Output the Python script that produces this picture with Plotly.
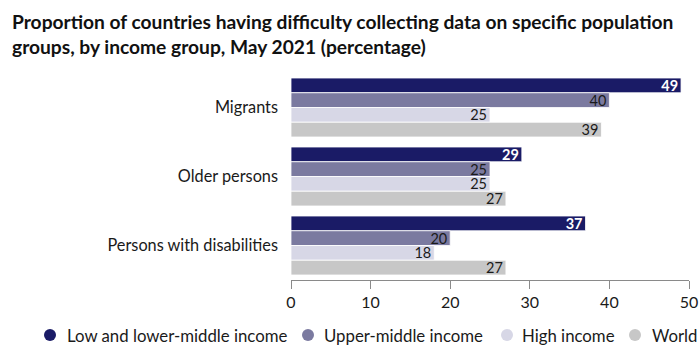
import plotly.graph_objects as go

# Data: share of countries reporting difficulty (%)
groups = ["Migrants", "Older persons", "Persons with disabilities"]
series_names = ["Low and lower-middle income", "Upper-middle income", "High income", "World"]
low_lower_middle = [49, 29, 37]
upper_middle = [40, 25, 20]
high_income = [25, 25, 18]
world = [39, 27, 27]

values = [low_lower_middle, upper_middle, high_income, world]
colors = ["#1a1b66", "#7b7aa0", "#d7d7e6", "#c7c7c7"]
text_colors = ["white", "#1a1a1a", "#1a1a1a", "#1a1a1a"]
font_family = "Lato, 'Open Sans', sans-serif"
title_text = ("Proportion of countries having difficulty collecting data on specific population"
              "<br>groups, by income group, May 2021 (percentage)")

W, H = 700, 345
ML, MR, MT, MB = 291, 11, 73, 65
PW, PH = W - ML - MR, H - MT - MB


def px_to_paper(px, py):
    """Convert page pixel position to paper coordinates."""
    return (px - ML) / PW, (H - MB - py) / PH


fig = go.Figure()
for name, vals, col, tcol in zip(series_names, values, colors, text_colors):
    fig.add_trace(go.Bar(
        y=groups, x=vals, orientation="h", name=name,
        marker=dict(color=col, line=dict(color="white", width=0.8)),
        text=[str(v) for v in vals], textposition="inside", insidetextanchor="end",
        textfont=dict(color=tcol, size=14.5, family=font_family,
                      weight="bold" if tcol == "white" else "normal"),
        textangle=0, constraintext="none", cliponaxis=False,
        showlegend=False,
    ))

# Legend row: circle swatch + label
legend_items = [
    (series_names[0], colors[0], 50, 65),
    (series_names[1], colors[1], 308, 322),
    (series_names[2], colors[2], 507, 520),
    (series_names[3], colors[3], 635, 650),
]
legend_y = 335
r = 6
shapes = []
annotations = []
for name, col, cx, tx in legend_items:
    x0, y0 = px_to_paper(cx - r, legend_y + r)
    x1, y1 = px_to_paper(cx + r, legend_y - r)
    shapes.append(dict(type="circle", xref="paper", yref="paper",
                       x0=x0, x1=x1, y0=y0, y1=y1,
                       fillcolor=col, line=dict(width=0)))
    ax, ay = px_to_paper(tx, legend_y)
    annotations.append(dict(text=name, xref="paper", yref="paper", x=ax, y=ay,
                            xanchor="left", yanchor="middle", showarrow=False,
                            font=dict(size=16.8, color="#1a1a1a", family=font_family)))

# Two-line chart title at the top left
tx, ty = px_to_paper(10, 8)
annotations.append(dict(text=title_text, xref="paper", yref="paper", x=tx, y=ty,
                        xanchor="left", yanchor="top", align="left", showarrow=False,
                        font=dict(size=19.2, family=font_family, weight="bold", color="#111111")))

fig.update_layout(
    width=W, height=H,
    margin=dict(l=ML, r=MR, t=MT, b=MB),
    paper_bgcolor="white", plot_bgcolor="white",
    barmode="group", bargap=0.145, bargroupgap=0,
    font=dict(family=font_family, size=16, color="#1a1a1a"),
    xaxis=dict(
        range=[0, 50], dtick=10, showgrid=False, zeroline=False,
        showline=True, linecolor="#8a8a8a", linewidth=1,
        ticks="outside", ticklen=8, tickcolor="#8a8a8a", tickwidth=1,
        tickfont=dict(size=16, color="#1a1a1a"), automargin=False,
    ),
    yaxis=dict(
        autorange="reversed", showgrid=False, zeroline=False, showline=False,
        ticks="", ticklabelstandoff=12, automargin=False,
        tickfont=dict(size=16.3, color="#1a1a1a"),
    ),
    showlegend=False,
    shapes=shapes,
    annotations=annotations,
)

fig.write_html("out.html")
